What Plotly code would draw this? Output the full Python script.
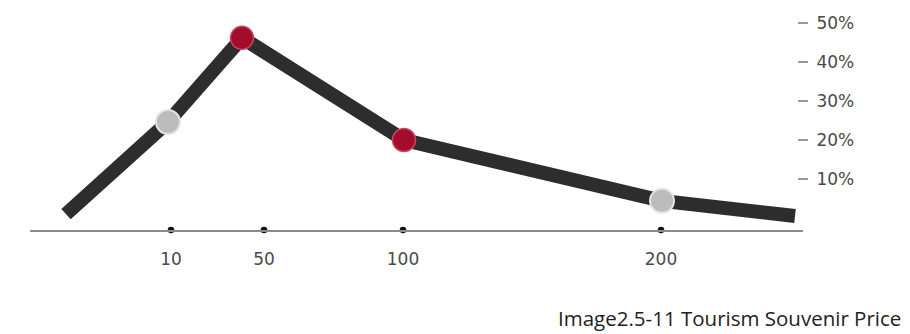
import plotly.graph_objects as go

# Position of each point along the price axis (axis units) and its share of sales (%)
line_pos = [36, 138, 212, 374, 632, 765]
line_share = [1.0, 24.6, 46.2, 20.0, 4.4, 0.5]

# Highlighted points on the curve
red_pos = [212, 374]
red_share = [46.2, 20.0]
grey_pos = [138, 632]
grey_share = [24.6, 4.4]

# Price ticks along the bottom axis
price_pos = [141, 234, 373, 631]
price_labels = ["10", "50", "100", "200"]

# Share ticks on the right
share_ticks = [10, 20, 30, 40, 50]
share_labels = ["10%", "20%", "30%", "40%", "50%"]

caption = "Image2.5-11 Tourism Souvenir Price"

Y_MIN, Y_MAX = -3.08, 53.33
X_MIN, X_MAX = 0, 773

fig = go.Figure()

fig.add_trace(go.Scatter(
    x=line_pos, y=line_share, mode="lines",
    line=dict(color="#2d2d2d", width=14),
    hoverinfo="skip", cliponaxis=False,
))

fig.add_trace(go.Scatter(
    x=grey_pos, y=grey_share, mode="markers",
    marker=dict(size=24, color="#bcbcbc", line=dict(color="#e4e4e4", width=2)),
    cliponaxis=False,
))

fig.add_trace(go.Scatter(
    x=red_pos, y=red_share, mode="markers",
    marker=dict(size=23, color="#a30d2c", line=dict(color="#c9485f", width=1.5)),
    cliponaxis=False,
))

# Small dots marking each price on the axis line
fig.add_trace(go.Scatter(
    x=price_pos, y=[Y_MIN] * len(price_pos), mode="markers",
    marker=dict(size=6.5, color="#111111"),
    cliponaxis=False,
))

fig.update_layout(
    width=910, height=334,
    margin=dict(l=30, r=107, t=10, b=104),
    paper_bgcolor="white", plot_bgcolor="white",
    showlegend=False,
    xaxis=dict(
        range=[X_MIN, X_MAX],
        showgrid=False, zeroline=False,
        showline=True, linecolor="#8a8a8a", linewidth=2,
        tickmode="array", tickvals=price_pos, ticktext=price_labels,
        ticks="", ticklabelstandoff=13,
        tickfont=dict(family="DejaVu Sans", size=17, color="#4a4a4a"),
    ),
    yaxis=dict(
        range=[Y_MIN, Y_MAX],
        side="right", anchor="free", position=(797 - 30) / 773,
        showgrid=False, zeroline=False, showline=False,
        tickmode="array", tickvals=share_ticks, ticktext=share_labels,
        ticks="outside", ticklen=10, tickwidth=1.5, tickcolor="#9a9a9a",
        ticklabelstandoff=5,
        tickfont=dict(family="DejaVu Sans", size=17, color="#4a4a4a"),
    ),
    annotations=[dict(
        text=caption, xref="paper", yref="paper",
        x=(903 - 30) / 773, y=(230 - 318) / 220,
        xanchor="right", yanchor="middle", showarrow=False,
        font=dict(family="Open Sans", size=20.5, color="#222222"),
    )],
)

fig.write_html("out.html")
